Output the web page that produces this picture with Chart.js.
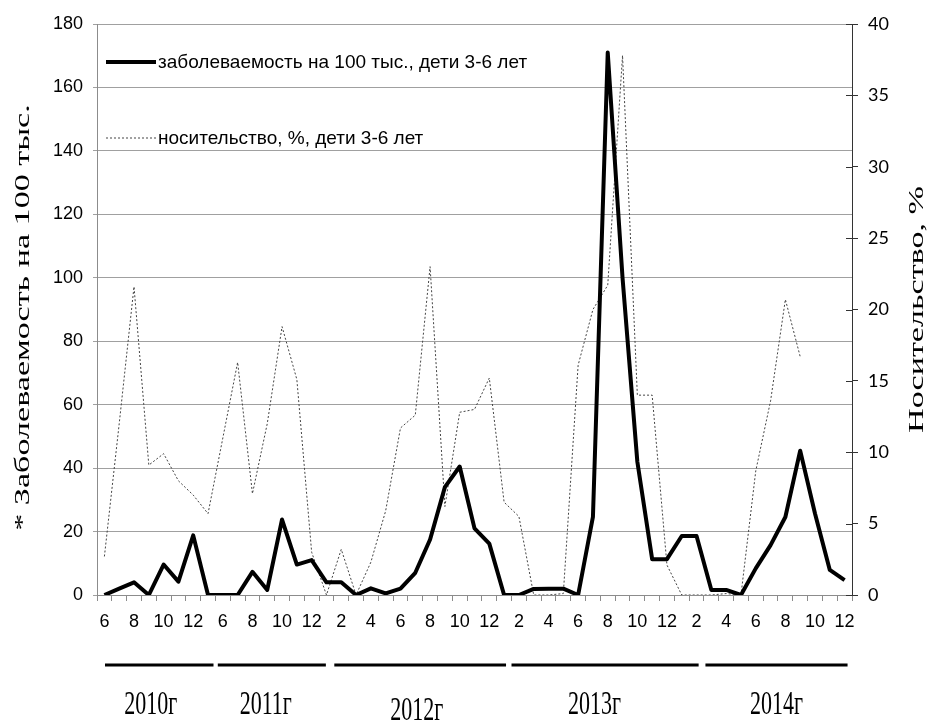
<!DOCTYPE html>
<html>
<head>
<meta charset="utf-8">
<script src="https://cdn.jsdelivr.net/npm/chart.js@4.4.1/dist/chart.umd.min.js"></script>
<style>
  html, body { margin: 0; padding: 0; background: #fff; }
  canvas { display: block; }
</style>
</head>
<body>
<canvas id="chart" width="927" height="722"></canvas>
<script>
// months: 2010 (6-12), 2011 (5-12), 2012, 2013, 2014 (1-12)
const months = [
  '6', '7', '8', '9', '10', '11', '12',
  '5', '6', '7', '8', '9', '10', '11', '12',
  '1', '2', '3', '4', '5', '6', '7', '8', '9', '10', '11', '12',
  '1', '2', '3', '4', '5', '6', '7', '8', '9', '10', '11', '12',
  '1', '2', '3', '4', '5', '6', '7', '8', '9', '10', '11', '12'
];

const incidence = [
  0, 2, 4, 0, 9.6, 4.2, 18.8,
  0, 0, 0, 7.3, 1.6, 23.8, 9.6, 11,
  4, 4, 0, 2.1, 0.5, 2, 7, 17.5, 34, 40.5, 21, 16.2,
  0, 0, 1.9, 2, 2, 0, 24.6, 171, 100, 42, 11.3, 11.3,
  18.6, 18.6, 1.6, 1.6, 0, 8.4, 15.7, 24.6, 45.5, 25.7, 7.9, 4.7
];

const carriage = [
  2.7, 12, 21.6, 9.1, 9.9, 8.0, 7.0,
  5.7, 11, 16.3, 7.1, 12, 18.8, 15.1, 3,
  0, 3.2, 0, 2.3, 5.9, 11.7, 12.6, 23.0, 6.2, 12.8, 13.0, 15.2,
  6.5, 5.5, 0, 0, 0.1, 16.1, 20.0, 21.7, 37.8, 14.0, 14.0, 2.1,
  0, 0, 0, 0.1, 0, 8.7, 13.6, 20.7, 16.7, null, null, null
];

const years = ['2010г', '2011г', '2012г', '2013г', '2014г'];
const incidenceLabel = 'заболеваемость на 100 тыс., дети 3-6 лет';
const carriageLabel = 'носительство, %, дети 3-6 лет';
const leftTitle = '* Заболеваемость на 100 тыс.';
const rightTitle = 'Носительство, %';

// year underline spans and label centres, in category-index units
const yearSpans = [[0.04, 7.37], [7.66, 14.96], [15.53, 27.13], [27.5, 40.14], [40.6, 50.2]];
const yearLabelAt = [3.14, 10.9, 21.1, 33.1, 45.4];

const SANS = '"Liberation Sans", Arial, sans-serif';
const SERIF = '"Liberation Serif", "Times New Roman", serif';

const extrasPlugin = {
  id: 'extras',
  afterDraw(chart) {
    const ctx = chart.ctx;
    const area = chart.chartArea;
    const xs = chart.scales.x;
    const y1 = chart.scales.y1;
    ctx.save();

    // inner half of the right axis tick marks
    ctx.strokeStyle = '#333';
    ctx.lineWidth = 1;
    y1.ticks.forEach((t) => {
      const py = Math.round(y1.getPixelForValue(t.value)) + 0.5;
      ctx.beginPath();
      ctx.moveTo(area.right - 6, py);
      ctx.lineTo(area.right, py);
      ctx.stroke();
    });

    // legend inside the plot
    const rows = [area.top + 38, area.top + 114];
    chart.data.datasets.forEach((ds, i) => {
      const ly = rows[i];
      ctx.strokeStyle = ds.borderColor;
      ctx.lineWidth = ds.borderWidth;
      ctx.setLineDash(ds.borderDash || []);
      ctx.beginPath();
      ctx.moveTo(area.left + 9, ly);
      ctx.lineTo(area.left + 59, ly);
      ctx.stroke();
      ctx.setLineDash([]);
      ctx.fillStyle = '#000';
      ctx.font = '19px ' + SANS;
      ctx.textAlign = 'left';
      ctx.textBaseline = 'middle';
      ctx.fillText(ds.label, area.left + 61, ly + 1);
    });

    // year underlines and labels
    ctx.strokeStyle = '#000';
    ctx.lineWidth = 3;
    yearSpans.forEach(([a, b]) => {
      ctx.beginPath();
      ctx.moveTo(xs.getPixelForValue(a), 665);
      ctx.lineTo(xs.getPixelForValue(b), 665);
      ctx.stroke();
    });
    ctx.fillStyle = '#000';
    ctx.font = '22px ' + SERIF;
    ctx.textAlign = 'center';
    ctx.textBaseline = 'middle';
    years.forEach((label, i) => {
      const cx = xs.getPixelForValue(yearLabelAt[i]);
      const cy = i === 2 ? 711 : 705;
      ctx.save();
      ctx.translate(cx, cy);
      ctx.scale(1, 1.5);
      ctx.fillText(label, 0, 0);
      ctx.restore();
    });

    // axis titles, both reading bottom to top
    const midY = (area.top + area.bottom) / 2;
    [[23, midY + 8, leftTitle], [917, midY, rightTitle]].forEach(([tx, ty, text]) => {
      ctx.save();
      ctx.translate(tx, ty);
      ctx.rotate(-Math.PI / 2);
      ctx.scale(1.55, 1);
      ctx.font = '22px ' + SERIF;
      ctx.fillText(text, 0, 0);
      ctx.restore();
    });

    ctx.restore();
  }
};

new Chart(document.getElementById('chart'), {
  type: 'line',
  data: {
    labels: months,
    datasets: [
      {
        label: incidenceLabel,
        data: incidence,
        yAxisID: 'y',
        borderColor: '#000',
        borderWidth: 4,
        borderJoinStyle: 'round',
        pointRadius: 0,
        tension: 0,
        fill: false
      },
      {
        label: carriageLabel,
        data: carriage,
        yAxisID: 'y1',
        borderColor: '#444',
        borderWidth: 1,
        borderDash: [2, 2],
        pointRadius: 0,
        tension: 0,
        fill: false
      }
    ]
  },
  options: {
    responsive: false,
    animation: false,
    layout: { padding: { top: 24, left: 0, right: 0, bottom: 0 } },
    plugins: {
      legend: { display: false },
      tooltip: { enabled: false }
    },
    scales: {
      x: {
        offset: true,
        grid: { offset: true, drawOnChartArea: false, tickLength: 6, color: '#8c8c8c' },
        border: { color: '#8c8c8c' },
        ticks: {
          autoSkip: false,
          maxRotation: 0,
          padding: 10,
          color: '#000',
          font: { family: SANS, size: 18 },
          callback: (v, i) => (i % 2 === 0 ? months[i] : '')
        },
        afterFit: (s) => { s.height = 127; }
      },
      y: {
        position: 'left',
        min: 0,
        max: 180,
        ticks: { stepSize: 20, padding: 10, color: '#000', font: { family: SANS, size: 18 } },
        grid: { color: '#a0a0a0', tickLength: 4 },
        border: { color: '#8c8c8c' },
        afterFit: (s) => { s.width = 97; }
      },
      y1: {
        position: 'right',
        min: 0,
        max: 40,
        ticks: { stepSize: 5, padding: 10, color: '#000', font: { family: 'Lato, sans-serif', size: 18 } },
        grid: { drawOnChartArea: false, tickLength: 6, color: '#333' },
        border: { color: '#333' },
        afterFit: (s) => { s.width = 75; }
      }
    }
  },
  plugins: [extrasPlugin]
});
</script>
</body>
</html>
